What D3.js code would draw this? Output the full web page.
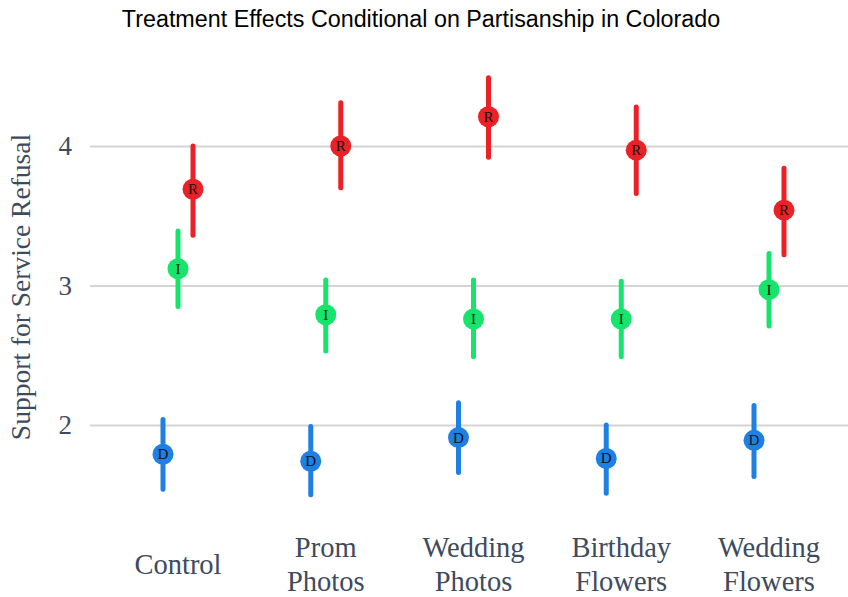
<!DOCTYPE html>
<html>
<head>
<meta charset="utf-8">
<script src="https://cdn.jsdelivr.net/npm/d3@7"></script>
<style>
  html, body { margin: 0; padding: 0; background: #ffffff; }
  svg { display: block; }
</style>
</head>
<body>
<svg id="chart" width="848" height="597"></svg>
<script>
// Treatment conditions (x axis)
const categories = ["Control", "Prom Photos", "Wedding Photos", "Birthday Flowers", "Wedding Flowers"];
const categoryLines = [["Control"], ["Prom", "Photos"], ["Wedding", "Photos"], ["Birthday", "Flowers"], ["Wedding", "Flowers"]];

// Party groups, drawn left to right within each condition
const parties = ["D", "I", "R"];
const partyColors = { D: "#1f80e3", I: "#17e56b", R: "#ea2228" };

// Point estimates and 95% intervals by party, one value per condition
const estD = [1.79, 1.74, 1.91, 1.76, 1.89];
const lowD = [1.54, 1.50, 1.66, 1.51, 1.63];
const highD = [2.04, 1.99, 2.16, 2.00, 2.14];

const estI = [3.12, 2.79, 2.76, 2.76, 2.97];
const lowI = [2.85, 2.53, 2.49, 2.49, 2.71];
const highI = [3.39, 3.04, 3.04, 3.03, 3.23];

const estR = [3.69, 4.00, 4.21, 3.97, 3.54];
const lowR = [3.36, 3.70, 3.92, 3.66, 3.22];
const highR = [4.00, 4.31, 4.49, 4.28, 3.84];

const yTicks = [2, 3, 4];

const rows = [];
categories.forEach((c, i) => {
  rows.push({ cat: c, party: "D", est: estD[i], lo: lowD[i], hi: highD[i] });
  rows.push({ cat: c, party: "I", est: estI[i], lo: lowI[i], hi: highI[i] });
  rows.push({ cat: c, party: "R", est: estR[i], lo: lowR[i], hi: highR[i] });
});

const svg = d3.select("#chart");
const W = 848, H = 597;
const margin = { left: 90, right: 0, top: 40, bottom: 100 };

const x = d3.scalePoint().domain(categories).range([178, 769]);
const dodge = d3.scalePoint().domain(parties).range([-15, 15]);
const y = d3.scaleLinear().domain([2, 4]).range([425, 146]);

const serif = "'Liberation Serif', 'DejaVu Serif', serif";
const inkColor = "#3e4b5e";

// Title
svg.append("text")
  .attr("x", 421).attr("y", 27)
  .attr("text-anchor", "middle")
  .attr("font-family", "'Liberation Sans', Arial, sans-serif")
  .attr("font-size", 23.3)
  .attr("fill", "#000")
  .text("Treatment Effects Conditional on Partisanship in Colorado");

// Horizontal gridlines with tick labels
const yAxis = d3.axisLeft(y).tickValues(yTicks).tickSize(-(W - margin.left)).tickPadding(18).tickFormat(d3.format("d"));
const gy = svg.append("g").attr("transform", `translate(${margin.left},0)`).call(yAxis);
gy.select(".domain").remove();
gy.selectAll(".tick line").attr("stroke", "#d4d4d4").attr("stroke-width", 2);
gy.selectAll(".tick text")
  .attr("font-family", serif).attr("font-size", 27).attr("fill", inkColor);

// Y axis title
svg.append("text")
  .attr("transform", "translate(30,287) rotate(-90)")
  .attr("text-anchor", "middle")
  .attr("font-family", serif)
  .attr("font-size", 27.5)
  .attr("fill", inkColor)
  .text("Support for Service Refusal");

// X category labels, one or two lines each
const gx = svg.append("g");
categories.forEach((c, i) => {
  const lines = categoryLines[i];
  const t = gx.append("text")
    .attr("x", x(c))
    .attr("text-anchor", "middle")
    .attr("font-family", serif)
    .attr("font-size", 28.5)
    .attr("fill", inkColor);
  if (lines.length === 1) {
    t.append("tspan").attr("x", x(c)).attr("y", 574).text(lines[0]);
  } else {
    t.append("tspan").attr("x", x(c)).attr("y", 557).text(lines[0]);
    t.append("tspan").attr("x", x(c)).attr("y", 591).text(lines[1]);
  }
});

// Interval bars and point estimates
const marks = svg.append("g").selectAll("g").data(rows).join("g")
  .attr("transform", d => `translate(${x(d.cat) + dodge(d.party)},0)`);

marks.append("line")
  .attr("x1", 0).attr("x2", 0)
  .attr("y1", d => y(d.hi)).attr("y2", d => y(d.lo))
  .attr("stroke", d => partyColors[d.party])
  .attr("stroke-width", 5)
  .attr("stroke-linecap", "round");

marks.append("circle")
  .attr("cx", 0).attr("cy", d => y(d.est))
  .attr("r", 10.5)
  .attr("fill", d => partyColors[d.party]);

marks.append("text")
  .attr("x", 0).attr("y", d => y(d.est) + 5)
  .attr("text-anchor", "middle")
  .attr("font-family", serif)
  .attr("font-size", 15)
  .attr("fill", "#111")
  .text(d => d.party);
</script>
</body>
</html>
